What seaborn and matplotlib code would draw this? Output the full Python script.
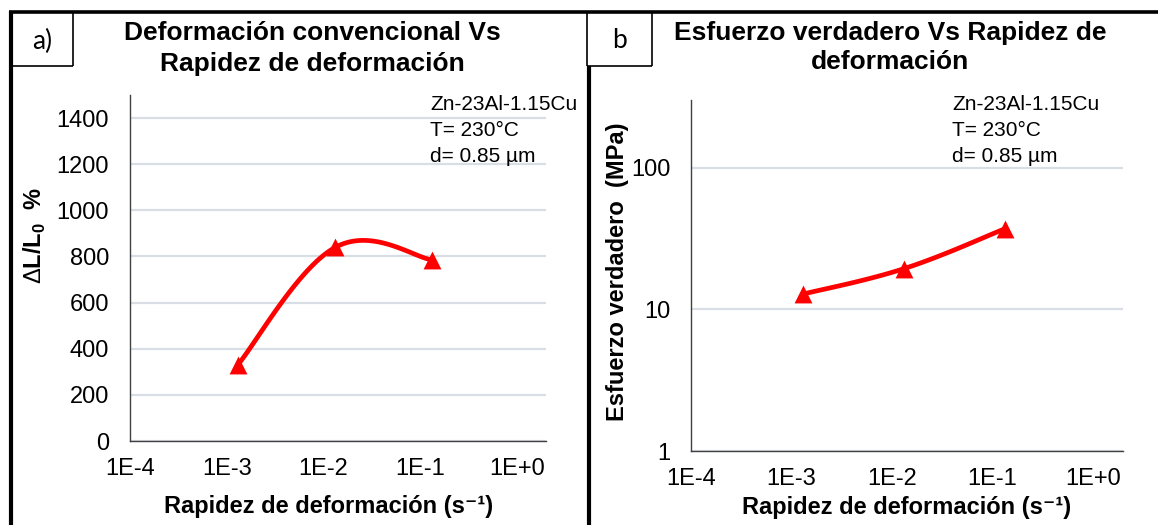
import numpy as np
import pandas as pd
import matplotlib
matplotlib.use("Agg")
import matplotlib.pyplot as plt
from matplotlib.lines import Line2D
import seaborn as sns

# Strain rate (s^-1) for the three tests
strain_rate = [0.0013, 0.0133, 0.133]
# Conventional elongation, %
elongation = [330, 840, 785]
# True stress, MPa
true_stress = [12.8, 19.4, 37.0]

alloy_note = "Zn-23Al-1.15Cu\nT= 230°C\nd= 0.85 µm"
x_ticks = [1e-4, 1e-3, 1e-2, 1e-1, 1e0]
x_ticklabels = ["1E-4", "1E-3", "1E-2", "1E-1", "1E+0"]

sns.set_theme(style="white")
plt.rcParams["font.family"] = ["Liberation Sans", "DejaVu Sans"]
plt.rcParams["mathtext.fontset"] = "custom"
plt.rcParams["mathtext.rm"] = "Liberation Sans"
plt.rcParams["mathtext.bf"] = "Liberation Sans:bold"
plt.rcParams["text.color"] = "black"
plt.rcParams["axes.labelcolor"] = "black"
plt.rcParams["xtick.color"] = "black"
plt.rcParams["ytick.color"] = "black"

RED = "#ff0000"
GRID = "#d9dee5"
SPINE = "#404040"
TICK_FS = 17
LABEL_FS = 17
TITLE_FS = 19
NOTE_FS = 15


def smooth_curve(ax, xs, ys, n=60):
    """Cardinal (Catmull-Rom) Bezier smoothing done in display space."""
    pts = ax.transData.transform(np.column_stack([xs, ys]))
    out = []
    m = len(pts)
    for i in range(m - 1):
        p0 = pts[i - 1] if i > 0 else pts[i]
        p1, p2 = pts[i], pts[i + 1]
        p3 = pts[i + 2] if i + 2 < m else pts[i + 1]
        c1 = p1 + (p2 - p0) / 6.0 * 1.15
        c2 = p2 - (p3 - p1) / 6.0 * 1.15
        t = np.linspace(0, 1, n)[:, None]
        seg = ((1 - t) ** 3) * p1 + 3 * ((1 - t) ** 2) * t * c1 + 3 * (1 - t) * t ** 2 * c2 + t ** 3 * p2
        out.append(seg if i == 0 else seg[1:])
    curve = ax.transData.inverted().transform(np.vstack(out))
    return curve[:, 0], curve[:, 1]


def style_axis(ax):
    ax.set_xscale("log")
    ax.set_xlim(1e-4, 10 ** 0.3)
    ax.set_xticks(x_ticks)
    ax.set_xticklabels(x_ticklabels)
    ax.xaxis.set_minor_locator(matplotlib.ticker.NullLocator())
    for s in ["top", "right"]:
        ax.spines[s].set_visible(False)
    for s in ["left", "bottom"]:
        ax.spines[s].set_color(SPINE)
        ax.spines[s].set_linewidth(1.0)
    ax.tick_params(axis="both", which="major", direction="in", length=5, width=1,
                   color=SPINE, labelsize=TICK_FS, labelcolor="black")
    ax.tick_params(axis="x", pad=12)
    ax.tick_params(axis="y", pad=15)
    ax.yaxis.grid(True, color=GRID, linewidth=1.6)
    ax.xaxis.grid(False)
    ax.set_axisbelow(True)
    ax.set_facecolor("white")


def place_labels(ax, xlabel, ylabel, xpos, ypos):
    ax.set_xlabel(xlabel, fontsize=LABEL_FS, fontweight="bold")
    ax.set_ylabel(ylabel, fontsize=LABEL_FS, fontweight="bold")
    ax.xaxis.set_label_coords(*xpos)
    ax.yaxis.set_label_coords(*ypos)
    ax.xaxis.label.set_verticalalignment("center")
    ax.yaxis.label.set_verticalalignment("center")


fig = plt.figure(figsize=(11.58, 5.25), dpi=100)
fig.patch.set_facecolor("white")

W, H = 1158, 525
ax1 = fig.add_axes([130 / W, 1 - 441 / H, (546 - 130) / W, (441 - 95) / H])
ax2 = fig.add_axes([691 / W, 1 - 451 / H, (1123 - 691) / W, (451 - 100) / H])

rate_label = "Rapidez de deformación (s⁻¹)"

# Panel a: elongation vs strain rate
style_axis(ax1)
ax1.set_ylim(0, 1500)
ax1.set_yticks(np.arange(0, 1401, 200))
df_a = pd.DataFrame({"rate": strain_rate, "value": elongation})
fig.canvas.draw()
cx, cy = smooth_curve(ax1, df_a["rate"].values, df_a["value"].values)
ax1.plot(cx, cy, color=RED, linewidth=3.4, solid_capstyle="round", zorder=3)
sns.scatterplot(data=df_a, x="rate", y="value", ax=ax1, marker="^", s=165,
                color=RED, edgecolor=RED, linewidth=0, zorder=4, legend=False)
place_labels(ax1, rate_label, r"$\Delta$L/L$_{\mathbf{0}}$  %",
             (0.478, -0.19), (-0.228, 0.595))
ax1.text(0.722, 1.0, alloy_note, transform=ax1.transAxes, ha="left", va="top",
         fontsize=NOTE_FS, linespacing=1.48)

# Panel b: true stress vs strain rate
style_axis(ax2)
ax2.set_yscale("log")
ax2.set_ylim(1, 300)
ax2.set_yticks([1, 10, 100])
ax2.set_yticklabels(["1", "10", "100"])
ax2.yaxis.set_minor_locator(matplotlib.ticker.NullLocator())
ax2.tick_params(axis="both", which="major", direction="in", length=5, width=1,
                color=SPINE, labelsize=TICK_FS)
ax2.tick_params(axis="x", pad=12)
ax2.tick_params(axis="y", pad=15)
df_b = pd.DataFrame({"rate": strain_rate, "value": true_stress})
fig.canvas.draw()
cx, cy = smooth_curve(ax2, df_b["rate"].values, df_b["value"].values)
ax2.plot(cx, cy, color=RED, linewidth=3.4, solid_capstyle="round", zorder=3)
sns.scatterplot(data=df_b, x="rate", y="value", ax=ax2, marker="^", s=165,
                color=RED, edgecolor=RED, linewidth=0, zorder=4, legend=False)
place_labels(ax2, rate_label, "Esfuerzo verdadero  (MPa)",
             (0.498, -0.162), (-0.169, 0.51))
ax2.text(0.605, 1.015, alloy_note, transform=ax2.transAxes, ha="left", va="top",
         fontsize=NOTE_FS, linespacing=1.48)

# Titles
fig.text(312 / W, 1 - 33 / H, "Deformación convencional Vs", ha="center", va="center",
         fontsize=TITLE_FS, fontweight="bold")
fig.text(312 / W, 1 - 64 / H, "Rapidez de deformación", ha="center", va="center",
         fontsize=TITLE_FS, fontweight="bold")
fig.text(890 / W, 1 - 33 / H, "Esfuerzo verdadero Vs Rapidez de", ha="center", va="center",
         fontsize=TITLE_FS, fontweight="bold")
fig.text(890 / W, 1 - 62 / H, "deformación", ha="center", va="center",
         fontsize=TITLE_FS, fontweight="bold")

# Frame lines and panel tags
def fline(x0, y0, x1, y1, lw):
    fig.add_artist(Line2D([x0 / W, x1 / W], [1 - y0 / H, 1 - y1 / H], color="black",
                          linewidth=lw, solid_capstyle="butt"))

fline(9, 12, W, 12, 2.6)
fline(11, 11, 11, H, 3.0)
fline(587, 12, 587, 66, 1.2)
fline(588.5, 66, 588.5, H, 3.0)
fline(73, 12, 73, 66, 1.2)
fline(11, 66, 73, 66, 1.2)
fline(652, 12, 652, 66, 1.2)
fline(587, 66, 652, 66, 1.2)

tag_font = ["Lato", "DejaVu Sans"]
fig.text(42 / W, 1 - 41 / H, "a)", ha="center", va="center", fontsize=19, family=tag_font)
fig.text(619 / W, 1 - 41 / H, "b", ha="center", va="center", fontsize=19, family=tag_font)

fig.savefig("out.png", dpi=100, facecolor="white")
